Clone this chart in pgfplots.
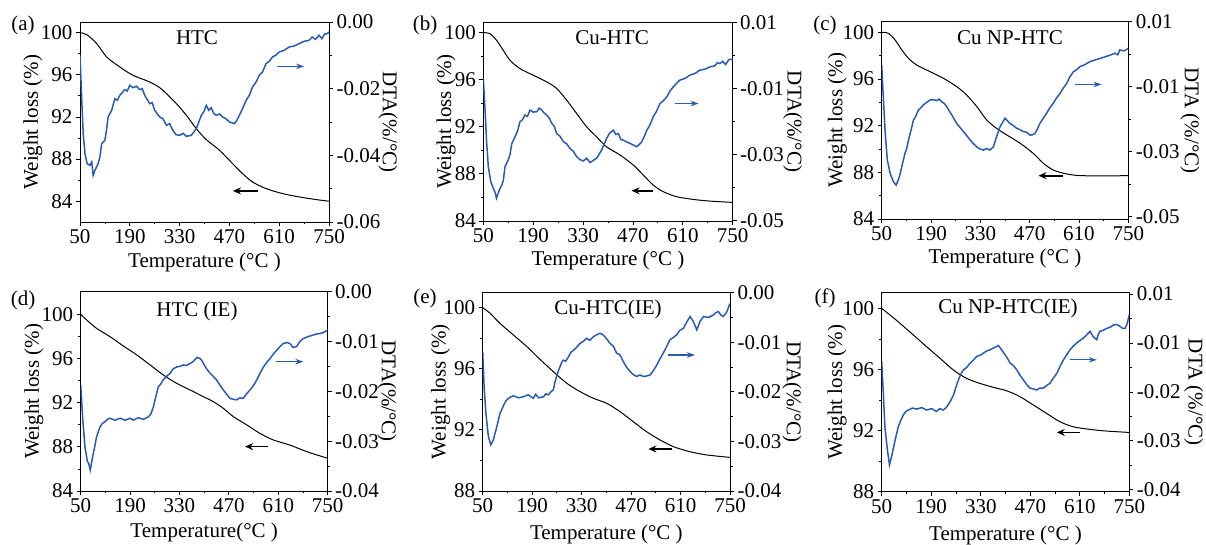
\documentclass[border=0pt]{standalone}
\usepackage{fontspec}
\setmainfont{Liberation Serif}
\usepackage{pgfplots}
\pgfplotsset{compat=1.18}
\usetikzlibrary{arrows.meta}
\definecolor{dtablue}{RGB}{40,92,178}
\pgfplotsset{
  tgabase/.style={scale only axis, anchor=south west,
    xmin=50, xmax=750, xtick={50,190,330,470,610,750},
    minor x tick num=1, minor y tick num=1,
    tick align=outside, major tick length=4pt, minor tick length=2.5pt,
    axis line style={line width=0.8pt},
    every tick/.style={line width=0.8pt, black},
    /pgf/number format/assume math mode=true,
    ylabel style={anchor=center}, xlabel style={anchor=center}},
  leftax/.style={tgabase, xtick pos=left, ytick pos=left, ylabel={Weight loss (\%)}},
  rightax/.style={tgabase, axis y line*=right, axis x line=none, xtick=\empty,
    scaled y ticks=false,
    yticklabel style={/pgf/number format/fixed, /pgf/number format/fixed zerofill, /pgf/number format/precision=2}},
  tga/.style={black, line width=1pt, smooth},
  dta/.style={dtablue, line width=1.5pt},
}
\tikzset{
  barr/.style={black, line width=1.7pt, -{Stealth[length=8pt,width=7pt]}},
  darr/.style={dtablue, line width=1.1pt, -{Stealth[length=8pt,width=5.5pt]}},
}
\begin{document}
\begin{tikzpicture}[font=\fontsize{21}{25}\selectfont]
\path[use as bounding box] (0,0) rectangle (1206pt,545pt);
% (a)
\begin{axis}[leftax, at={(80pt,323pt)}, width=249pt, height=200pt,
  ymin=82.03, ymax=101.01, ytick={84,88,92,96,100},
  xlabel={Temperature (°C )},
  ylabel style={at={(axis description cs:-0.189,0.5)}},
  xlabel style={at={(axis description cs:0.5,-0.2)}}]
\addplot[tga] coordinates {(50,100.0)(69,99.81)(97,98.96)(125,97.69)(162,96.74)(199,95.95)(246,95.32)(274,94.78)(293,94.21)(321,93.26)(349,92.16)(377,90.89)(405,89.85)(442,88.84)(479,87.57)(507,86.62)(535,85.83)(573,85.20)(619,84.73)(666,84.41)(713,84.16)(750,84.0)};
\draw[barr] (axis cs:550,84.98) -- (axis cs:480,84.98);
\end{axis}
\begin{axis}[rightax, at={(80pt,323pt)}, width=249pt, height=200pt,
  ymin=-0.06, ymax=0, ytick={0,-0.02,-0.04,-0.06},
  ylabel={DTA(\%/°C)},
  ylabel style={at={(axis description cs:1.237,0.5)}, rotate=180}]
\addplot[dta] coordinates {(50,-0.0100)(55,-0.0235)(59,-0.0335)(64,-0.0395)(70,-0.0425)(78,-0.0430)(83,-0.0420)(87,-0.0460)(92,-0.0445)(101,-0.0425)(106,-0.0405)(111,-0.0365)(120,-0.0355)(125,-0.0320)(129,-0.0285)(139,-0.0265)(148,-0.0230)(155,-0.0235)(162,-0.0220)(176,-0.0203)(183,-0.0207)(190,-0.0190)(199,-0.0197)(209,-0.0193)(218,-0.0203)(225,-0.0200)(232,-0.0220)(246,-0.0245)(253,-0.0242)(260,-0.0265)(274,-0.0285)(283,-0.0290)(293,-0.0310)(302,-0.0305)(311,-0.0325)(320,-0.0338)(330,-0.0340)(340,-0.0334)(349,-0.0343)(363,-0.0340)(377,-0.0320)(384,-0.0300)(391,-0.0280)(398,-0.0270)(405,-0.0250)(412,-0.0265)(419,-0.0257)(426,-0.0275)(433,-0.0280)(442,-0.0276)(451,-0.0285)(460,-0.0290)(470,-0.0300)(484,-0.0305)(491,-0.0295)(498,-0.0280)(507,-0.0260)(517,-0.0235)(526,-0.0220)(535,-0.0195)(545,-0.0180)(554,-0.0160)(563,-0.0150)(573,-0.0125)(582,-0.0118)(591,-0.0105)(600,-0.0100)(610,-0.0090)(624,-0.0085)(638,-0.0075)(652,-0.0072)(666,-0.0065)(680,-0.0058)(694,-0.0055)(703,-0.0045)(712,-0.0052)(722,-0.0040)(730,-0.0050)(738,-0.0036)(745,-0.0035)(750,-0.0030)};
\draw[darr] (axis cs:605,-0.0133) -- (axis cs:680,-0.0133);
\end{axis}
% (b)
\begin{axis}[leftax, at={(483.3pt,324pt)}, width=249.4pt, height=199pt,
  ymin=84, ymax=100.9, ytick={84,88,92,96,100},
  xlabel={Temperature (°C )},
  ylabel style={at={(axis description cs:-0.149,0.5)}},
  xlabel style={at={(axis description cs:0.5,-0.2)}}]
\addplot[tga] coordinates {(50,100)(69,99.9)(87,99.35)(106,98.5)(125,97.65)(153,96.94)(190,96.38)(228,95.81)(256,95.25)(284,94.26)(312,93.13)(340,92.0)(368,91.15)(396,90.3)(434,89.6)(471,88.75)(499,87.9)(527,87.05)(555,86.49)(593,86.06)(640,85.83)(686,85.69)(750,85.58)};
\draw[barr] (axis cs:527,86.57) -- (axis cs:466,86.57);
\end{axis}
\begin{axis}[rightax, at={(483.3pt,324pt)}, width=249.4pt, height=199pt,
  ymin=-0.0502, ymax=0.0101, ytick={0.01,-0.01,-0.03,-0.05},
  ylabel={DTA(\%/°C)},
  ylabel style={at={(axis description cs:1.24,0.5)}, rotate=180}]
\addplot[dta] coordinates {(50,-0.0070)(55,-0.0166)(59,-0.0257)(64,-0.0337)(71,-0.0383)(78,-0.0403)(83,-0.0415)(87,-0.0433)(95,-0.0408)(102,-0.0393)(106,-0.0380)(111,-0.0337)(120,-0.0317)(125,-0.0300)(130,-0.0267)(139,-0.0247)(146,-0.0230)(153,-0.0201)(160,-0.0195)(167,-0.0181)(174,-0.0185)(181,-0.0166)(190,-0.0172)(200,-0.0171)(207,-0.0160)(214,-0.0166)(221,-0.0175)(228,-0.0181)(235,-0.0190)(242,-0.0206)(249,-0.0215)(256,-0.0237)(265,-0.0245)(275,-0.0262)(284,-0.0268)(293,-0.0282)(302,-0.0290)(312,-0.0307)(321,-0.0316)(331,-0.0320)(340,-0.0312)(350,-0.0325)(359,-0.0318)(368,-0.0312)(375,-0.0300)(382,-0.0287)(389,-0.0270)(396,-0.0252)(405,-0.0235)(415,-0.0227)(422,-0.0240)(429,-0.0237)(436,-0.0255)(443,-0.0257)(452,-0.0262)(462,-0.0267)(471,-0.0272)(481,-0.0277)(488,-0.0270)(495,-0.0262)(502,-0.0245)(509,-0.0227)(518,-0.0210)(527,-0.0186)(536,-0.0170)(546,-0.0146)(555,-0.0138)(565,-0.0126)(574,-0.0108)(583,-0.0096)(592,-0.0085)(602,-0.0075)(616,-0.0070)(630,-0.0060)(644,-0.0055)(658,-0.0045)(672,-0.0042)(686,-0.0035)(700,-0.0032)(707,-0.0022)(714,-0.0025)(722,-0.0018)(730,-0.0028)(740,-0.0012)(750,-0.0013)};
\draw[darr] (axis cs:588,-0.0146) -- (axis cs:654,-0.0146);
\end{axis}
% (c)
\begin{axis}[leftax, at={(881.7pt,326pt)}, width=246.6pt, height=197.3pt,
  ymin=84, ymax=100.91, ytick={84,88,92,96,100},
  xlabel={Temperature (°C )},
  ylabel style={at={(axis description cs:-0.18,0.5)}},
  xlabel style={at={(axis description cs:0.5,-0.2)}}]
\addplot[tga] coordinates {(50,100)(69,99.91)(88,99.34)(107,98.49)(126,97.77)(149,97.2)(187,96.63)(225,96.06)(263,95.34)(291,94.63)(320,93.63)(348,92.49)(376,91.77)(405,91.2)(443,90.49)(480,89.63)(509,88.77)(537,88.2)(575,87.86)(622,87.71)(750,87.71)};
\draw[barr] (axis cs:565,87.71) -- (axis cs:495,87.71);
\end{axis}
\begin{axis}[rightax, at={(881.7pt,326pt)}, width=246.6pt, height=197.3pt,
  ymin=-0.0507, ymax=0.01, ytick={0.01,-0.01,-0.03,-0.05},
  ylabel={DTA (\%/°C)},
  ylabel style={at={(axis description cs:1.25,0.5)}, rotate=180}]
\addplot[dta] coordinates {(50,-0.0033)(55,-0.0141)(60,-0.0244)(66,-0.0326)(74,-0.0367)(83,-0.0392)(91,-0.0403)(97,-0.0387)(102,-0.0370)(107,-0.0346)(116,-0.0305)(121,-0.0290)(126,-0.0264)(133,-0.0235)(140,-0.0203)(147,-0.0190)(154,-0.0172)(161,-0.0165)(168,-0.0156)(178,-0.0148)(187,-0.0141)(197,-0.0140)(206,-0.0143)(213,-0.0138)(220,-0.0146)(228,-0.0152)(235,-0.0162)(242,-0.0175)(249,-0.0187)(256,-0.0200)(263,-0.0213)(272,-0.0225)(282,-0.0238)(291,-0.0250)(301,-0.0264)(310,-0.0275)(320,-0.0285)(330,-0.0292)(339,-0.0295)(348,-0.0290)(357,-0.0295)(367,-0.0285)(376,-0.0254)(386,-0.0223)(393,-0.0210)(400,-0.0197)(407,-0.0205)(414,-0.0213)(424,-0.0220)(433,-0.0228)(442,-0.0232)(452,-0.0238)(461,-0.0240)(471,-0.0249)(478,-0.0248)(485,-0.0244)(492,-0.0230)(499,-0.0213)(508,-0.0198)(518,-0.0182)(527,-0.0165)(537,-0.0151)(546,-0.0135)(556,-0.0121)(565,-0.0105)(575,-0.0090)(584,-0.0070)(594,-0.0054)(603,-0.0048)(613,-0.0038)(627,-0.0032)(641,-0.0023)(655,-0.0018)(670,-0.0013)(684,-0.0008)(698,-0.0003)(712,0.0003)(720,-0.0002)(726,0.0013)(738,0.0010)(750,0.0018)};
\draw[darr] (axis cs:599,-0.0093) -- (axis cs:674,-0.0093);
\end{axis}
% (d)
\begin{axis}[leftax, at={(80.7pt,54pt)}, width=247pt, height=199.3pt,
  ymin=84, ymax=102.05, ytick={84,88,92,96,100},
  xlabel={Temperature(°C )},
  ylabel style={at={(axis description cs:-0.19,0.5)}},
  xlabel style={at={(axis description cs:0.5,-0.21)}}]
\addplot[tga] coordinates {(50,100)(67,99.49)(95,98.73)(133,97.98)(171,97.13)(209,96.32)(247,95.41)(284,94.51)(322,93.75)(360,93.15)(398,92.54)(426,92.09)(454,91.49)(483,90.73)(521,89.98)(558,89.22)(596,88.62)(643,88.16)(691,87.56)(750,86.96)};
\draw[barr] (axis cs:582,88.02) -- (axis cs:516,88.02);
\end{axis}
\begin{axis}[rightax, at={(80.7pt,54pt)}, width=247pt, height=199.3pt,
  ymin=-0.04, ymax=0, ytick={0,-0.01,-0.02,-0.03,-0.04},
  ylabel={DTA(\%/°C)},
  ylabel style={at={(axis description cs:1.24,0.5)}, rotate=180}]
\addplot[dta] coordinates {(50,-0.0187)(56,-0.0258)(62,-0.0311)(69,-0.0341)(73,-0.0345)(77,-0.0358)(84,-0.0331)(90,-0.0310)(95,-0.0291)(105,-0.0271)(112,-0.0264)(119,-0.0261)(126,-0.0256)(133,-0.0254)(147,-0.0258)(162,-0.0254)(176,-0.0258)(190,-0.0254)(199,-0.0258)(213,-0.0253)(228,-0.0256)(242,-0.0251)(249,-0.0245)(256,-0.0231)(263,-0.0210)(270,-0.0191)(277,-0.0185)(284,-0.0177)(293,-0.0170)(303,-0.0164)(312,-0.0155)(322,-0.0151)(331,-0.0150)(341,-0.0147)(350,-0.0148)(360,-0.0144)(369,-0.0140)(379,-0.0132)(388,-0.0134)(393,-0.0138)(398,-0.0144)(407,-0.0155)(417,-0.0164)(426,-0.0170)(435,-0.0177)(445,-0.0188)(454,-0.0197)(464,-0.0206)(473,-0.0214)(483,-0.0216)(492,-0.0217)(502,-0.0213)(511,-0.0214)(520,-0.0205)(530,-0.0197)(540,-0.0188)(549,-0.0177)(558,-0.0164)(568,-0.0151)(577,-0.0142)(587,-0.0134)(596,-0.0125)(606,-0.0117)(615,-0.0110)(624,-0.0104)(634,-0.0102)(643,-0.0104)(652,-0.0112)(662,-0.0110)(671,-0.0100)(681,-0.0094)(695,-0.0090)(709,-0.0087)(718,-0.0085)(728,-0.0084)(738,-0.0082)(750,-0.0077)};
\draw[darr] (axis cs:604,-0.01405) -- (axis cs:681,-0.01405);
\end{axis}
% (e)
\begin{axis}[leftax, at={(482.7pt,54pt)}, width=247.3pt, height=198.3pt,
  ymin=88, ymax=100.98, ytick={88,92,96,100},
  xlabel={Temperature (°C )},
  ylabel style={at={(axis description cs:-0.17,0.5)}},
  xlabel style={at={(axis description cs:0.5,-0.22)}}]
\addplot[tga] coordinates {(50,100)(71,99.63)(99,98.97)(137,98.21)(175,97.45)(212,96.62)(250,95.81)(288,95.05)(326,94.50)(363,94.07)(401,93.74)(439,93.19)(476,92.54)(514,91.88)(552,91.34)(590,90.90)(637,90.57)(684,90.36)(750,90.20)};
\draw[barr] (axis cs:585,90.75) -- (axis cs:519,90.75);
\end{axis}
\begin{axis}[rightax, at={(482.7pt,54pt)}, width=247.3pt, height=198.3pt,
  ymin=-0.04, ymax=0, ytick={0,-0.01,-0.02,-0.03,-0.04},
  ylabel={DTA(\%/°C)},
  ylabel style={at={(axis description cs:1.25,0.5)}, rotate=180}]
\addplot[dta] coordinates {(50,-0.0119)(54,-0.0190)(59,-0.0243)(66,-0.0290)(73,-0.0307)(80,-0.0297)(90,-0.0270)(99,-0.0243)(104,-0.0236)(109,-0.0227)(116,-0.0218)(123,-0.0213)(130,-0.0210)(137,-0.0208)(151,-0.0212)(165,-0.0210)(179,-0.0206)(193,-0.0213)(200,-0.0205)(208,-0.0212)(222,-0.0210)(229,-0.0204)(236,-0.0206)(243,-0.0200)(250,-0.0196)(254,-0.0182)(259,-0.0169)(264,-0.0158)(269,-0.0149)(274,-0.0140)(278,-0.0136)(285,-0.0138)(293,-0.0129)(300,-0.0120)(307,-0.0116)(316,-0.0110)(326,-0.0102)(335,-0.0098)(344,-0.0092)(353,-0.0096)(363,-0.0089)(372,-0.0085)(382,-0.0082)(389,-0.0084)(396,-0.0089)(403,-0.0095)(410,-0.0102)(420,-0.0108)(429,-0.0122)(438,-0.0125)(448,-0.0139)(457,-0.0150)(467,-0.0159)(476,-0.0165)(486,-0.0169)(495,-0.0166)(505,-0.0169)(514,-0.0168)(524,-0.0166)(533,-0.0157)(543,-0.0146)(552,-0.0133)(561,-0.0122)(571,-0.0108)(580,-0.0095)(590,-0.0090)(599,-0.0085)(608,-0.0076)(618,-0.0072)(627,-0.0060)(637,-0.0048)(646,-0.0058)(656,-0.0075)(665,-0.0058)(675,-0.0048)(689,-0.0050)(703,-0.0045)(710,-0.0040)(717,-0.0038)(724,-0.0045)(731,-0.0048)(740,-0.0040)(750,-0.0022)};
\draw[darr] (axis cs:575,-0.01257) -- (axis cs:651,-0.01257);
\end{axis}
% (f)
\begin{axis}[leftax, at={(881.7pt,53.3pt)}, width=247.6pt, height=199pt,
  ymin=88, ymax=101.03, ytick={88,92,96,100},
  xlabel={Temperature (°C )},
  ylabel style={at={(axis description cs:-0.18,0.5)}},
  xlabel style={at={(axis description cs:0.5,-0.22)}}]
\addplot[tga] coordinates {(50,100)(74,99.56)(102,99.02)(140,98.25)(177,97.49)(215,96.73)(253,95.96)(290,95.42)(328,95.09)(366,94.83)(403,94.61)(441,94.22)(479,93.67)(516,93.13)(554,92.58)(592,92.25)(639,92.08)(686,91.97)(750,91.88)};
\draw[barr] (axis cs:610,91.88) -- (axis cs:545,91.88);
\end{axis}
\begin{axis}[rightax, at={(881.7pt,53.3pt)}, width=247.6pt, height=199pt,
  ymin=-0.0404, ymax=0.0003, ytick={0,-0.01,-0.02,-0.03,-0.04},
  yticklabels={0.01,-0.01,-0.02,-0.03,-0.04},
  ylabel={DTA (\%/°C)},
  ylabel style={at={(axis description cs:1.26,0.5)}, rotate=180}]
\addplot[dta] coordinates {(50,-0.0138)(55,-0.0209)(59,-0.0271)(66,-0.0318)(72,-0.0349)(78,-0.0332)(83,-0.0315)(88,-0.0298)(97,-0.0271)(104,-0.0258)(111,-0.0247)(118,-0.0240)(125,-0.0237)(137,-0.0233)(149,-0.0235)(163,-0.0232)(177,-0.0237)(191,-0.0234)(205,-0.0240)(214,-0.0234)(224,-0.0237)(231,-0.0233)(238,-0.0226)(245,-0.0218)(253,-0.0206)(260,-0.0190)(267,-0.0175)(274,-0.0163)(281,-0.0155)(290,-0.0150)(300,-0.0141)(309,-0.0135)(319,-0.0127)(328,-0.0125)(337,-0.0121)(347,-0.0116)(356,-0.0114)(366,-0.0110)(375,-0.0107)(380,-0.0105)(385,-0.0110)(392,-0.0117)(399,-0.0124)(406,-0.0132)(413,-0.0141)(422,-0.0146)(432,-0.0155)(441,-0.0166)(450,-0.0175)(460,-0.0185)(469,-0.0192)(479,-0.0194)(488,-0.0196)(497,-0.0192)(507,-0.0192)(516,-0.0187)(526,-0.0182)(535,-0.0172)(545,-0.0162)(554,-0.0148)(564,-0.0134)(573,-0.0124)(582,-0.0114)(592,-0.0106)(601,-0.0100)(610,-0.0095)(620,-0.0090)(630,-0.0083)(639,-0.0076)(648,-0.0087)(658,-0.0093)(662,-0.0083)(667,-0.0076)(676,-0.0074)(686,-0.0070)(695,-0.0068)(705,-0.0063)(714,-0.0062)(724,-0.0066)(731,-0.0070)(738,-0.0070)(744,-0.0060)(750,-0.0042)};
\draw[darr] (axis cs:582,-0.01343) -- (axis cs:658,-0.01343);
\end{axis}
% panel letters and titles
\node at (23pt,520pt) {(a)};
\node at (425pt,520pt) {(b)};
\node at (825pt,520pt) {(c)};
\node at (23pt,245pt) {(d)};
\node at (425pt,247pt) {(e)};
\node at (825pt,247pt) {(f)};
\node at (197pt,507pt) {HTC};
\node at (612pt,507pt) {Cu-HTC};
\node at (1010pt,507pt) {Cu NP-HTC};
\node at (197pt,234pt) {HTC (IE)};
\node at (608pt,236pt) {Cu-HTC(IE)};
\node at (1008pt,237pt) {Cu NP-HTC(IE)};
\end{tikzpicture}
\end{document}
